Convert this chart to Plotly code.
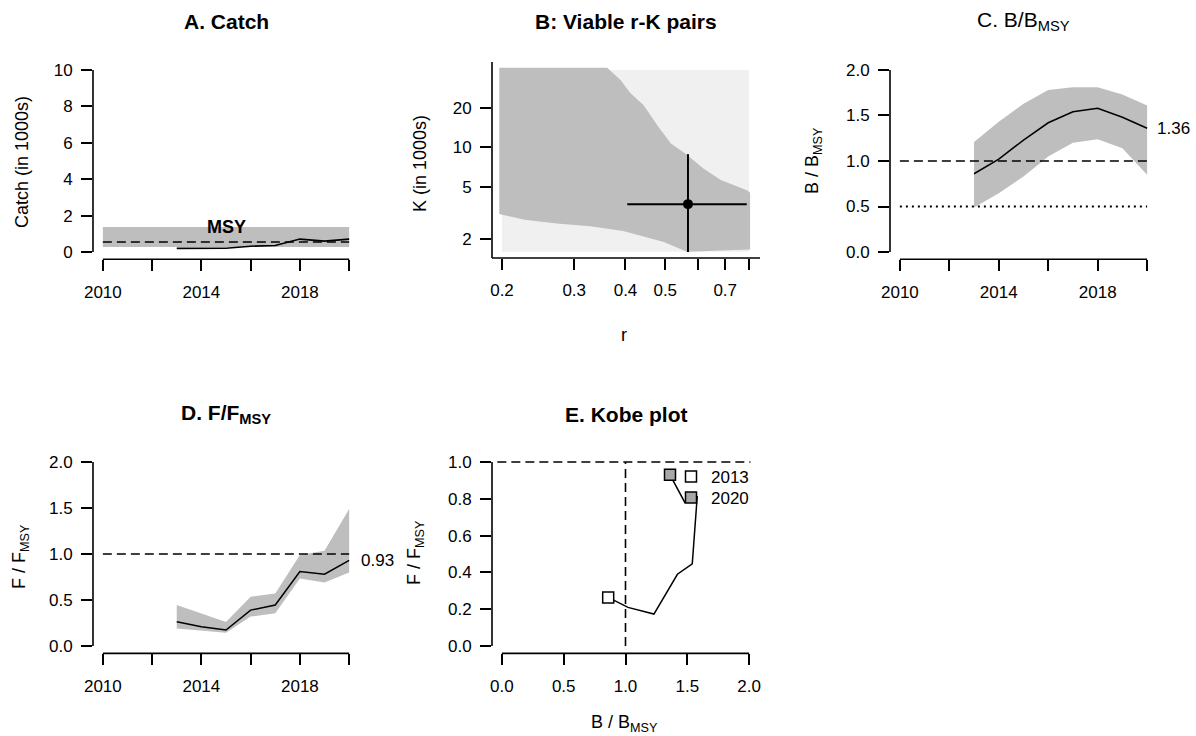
import math
import plotly.graph_objects as go

W, H = 1196, 736
FONT = "Liberation Sans, Arial, sans-serif"
TICK_FS = 17
LAB_FS = 18
TITLE_FS = 21

# ---------------- data ----------------
years = [2013, 2014, 2015, 2016, 2017, 2018, 2019, 2020]
year_axis = [2010, 2012, 2014, 2016, 2018, 2020]
year_labeled = [2010, 2014, 2018]
year_minor = [2012, 2016, 2020]

catch = [0.20, 0.20, 0.21, 0.32, 0.36, 0.71, 0.60, 0.71]
msy = 0.55
msy_lo = 0.28
msy_hi = 1.37
catch_ticks = [0, 2, 4, 6, 8, 10]

# r-K panel
r_prior = [0.2, 0.8]
k_prior = [1.6, 39.0]
cloud_upper_r = [0.197, 0.361, 0.389, 0.411, 0.443, 0.478, 0.516, 0.565, 0.619, 0.683, 0.793, 0.805]
cloud_upper_k = [40.6, 40.6, 32.7, 26.0, 21.0, 14.8, 10.7, 8.8, 6.9, 5.65, 4.7, 4.5]
cloud_lower_r = [0.805, 0.565, 0.496, 0.395, 0.328, 0.272, 0.227, 0.200, 0.197]
cloud_lower_k = [1.66, 1.60, 1.90, 2.30, 2.50, 2.63, 2.80, 3.10, 3.10]
r_best, r_lo, r_hi = 0.568, 0.404, 0.79
k_best, k_lo, k_hi = 3.69, 1.59, 8.89
r_labeled = [0.2, 0.3, 0.4, 0.5, 0.7]
r_minor = [0.6, 0.8]
k_ticks = [2, 5, 10, 20]

# B/Bmsy
bb = [0.86, 1.02, 1.23, 1.42, 1.54, 1.58, 1.48, 1.36]
bb_hi = [1.21, 1.43, 1.63, 1.78, 1.81, 1.81, 1.73, 1.61]
bb_lo = [0.49, 0.645, 0.83, 1.05, 1.20, 1.24, 1.14, 0.85]
ratio_ticks = [0.0, 0.5, 1.0, 1.5, 2.0]

# F/Fmsy
ff = [0.264, 0.21, 0.174, 0.39, 0.446, 0.81, 0.78, 0.93]
ff_hi = [0.446, 0.355, 0.26, 0.536, 0.57, 0.99, 1.036, 1.49]
ff_lo = [0.19, 0.167, 0.145, 0.32, 0.355, 0.735, 0.69, 0.80]
kobe_y_ticks = [0.0, 0.2, 0.4, 0.6, 0.8, 1.0]

BAND = "#bebebe"
BLACK = "#000000"


def px_x(x):
    return x / W


def px_y(y):
    return 1 - y / H


fig = go.Figure()

axis_common = dict(showgrid=False, zeroline=False, showline=False, ticks="outside",
                   ticklen=11, tickwidth=1.5, tickcolor=BLACK, automargin=False,
                   tickfont=dict(family=FONT, size=TICK_FS, color=BLACK))

panels = {
    "1": ((93, 359), (62.7, 259.3)),
    "2": ((492, 760), (62, 258)),
    "3": ((890, 1157), (62.7, 259.3)),
    "4": ((93, 359), (454.6, 653.4)),
    "5": ((492, 759), (454.6, 653.4)),
}

layout = dict(width=W, height=H, autosize=False, margin=dict(l=0, r=0, t=0, b=0, pad=0),
              template="none",
              paper_bgcolor="white", plot_bgcolor="white",
              font=dict(family=FONT, color=BLACK))

for k, ((x0, x1), (yt, yb)) in panels.items():
    xn = "xaxis" if k == "1" else "xaxis" + k
    yn = "yaxis" if k == "1" else "yaxis" + k
    layout[xn] = dict(domain=[px_x(x0), px_x(x1)], anchor="y" if k == "1" else "y" + k,
                      ticklabelstandoff=6, **axis_common)
    layout[yn] = dict(domain=[px_y(yb), px_y(yt)], anchor="x" if k == "1" else "x" + k,
                      ticklabelstandoff=5, **axis_common)

minor_year = dict(tickmode="array", tickvals=year_minor, ticks="outside", ticklen=11, tickwidth=1.5,
                  tickcolor=BLACK, showgrid=False)
for k in ["", "3", "4"]:
    layout["xaxis" + k].update(range=[2009.6, 2020.4], tickvals=year_labeled,
                               ticktext=[str(v) for v in year_labeled], minor=minor_year)
layout["yaxis"].update(range=[-0.4, 10.4], tickvals=catch_ticks)
layout["xaxis2"].update(type="log", range=[math.log10(0.1891), math.log10(0.851)],
                        tickvals=r_labeled, ticktext=[f"{v:.1f}" for v in r_labeled],
                        minor=dict(tickmode="array", tickvals=r_minor, ticks="outside", ticklen=11,
                                   tickwidth=1.5, tickcolor=BLACK, showgrid=False))
layout["yaxis2"].update(type="log", range=[math.log10(1.432), math.log10(44.9)],
                        tickvals=k_ticks, ticktext=[str(v) for v in k_ticks])
layout["yaxis3"].update(range=[-0.08, 2.08], tickvals=ratio_ticks, ticktext=[f"{v:.1f}" for v in ratio_ticks])
layout["yaxis4"].update(range=[-0.08, 2.08], tickvals=ratio_ticks, ticktext=[f"{v:.1f}" for v in ratio_ticks])
layout["xaxis5"].update(range=[-0.08, 2.08], tickvals=ratio_ticks, ticktext=[f"{v:.1f}" for v in ratio_ticks])
layout["yaxis5"].update(range=[-0.04, 1.04], tickvals=kobe_y_ticks, ticktext=[f"{v:.1f}" for v in kobe_y_ticks])

# ---------- Panel A ----------
fig.add_trace(go.Scatter(x=[year_axis[0], year_axis[-1], year_axis[-1], year_axis[0]],
                         y=[msy_lo, msy_lo, msy_hi, msy_hi], fill="toself", fillcolor=BAND,
                         line=dict(width=0), mode="lines", showlegend=False, hoverinfo="skip",
                         xaxis="x", yaxis="y"))
fig.add_trace(go.Scatter(x=[year_axis[0], year_axis[-1]], y=[msy, msy], mode="lines",
                         line=dict(color=BLACK, width=1.6, dash="9px,5px"), showlegend=False,
                         xaxis="x", yaxis="y"))
fig.add_trace(go.Scatter(x=years, y=catch, mode="lines", line=dict(color=BLACK, width=1.6),
                         showlegend=False, xaxis="x", yaxis="y"))

# ---------- Panel B ----------
fig.add_trace(go.Scatter(x=[r_prior[0], r_prior[1], r_prior[1], r_prior[0]],
                         y=[k_prior[0], k_prior[0], k_prior[1], k_prior[1]], fill="toself",
                         fillcolor="#f0f0f0", line=dict(width=0), mode="lines", showlegend=False,
                         hoverinfo="skip", xaxis="x2", yaxis="y2"))
fig.add_trace(go.Scatter(x=cloud_upper_r + cloud_lower_r, y=cloud_upper_k + cloud_lower_k,
                         fill="toself", fillcolor=BAND, line=dict(width=0, color=BAND), mode="lines",
                         showlegend=False, hoverinfo="skip", xaxis="x2", yaxis="y2"))
fig.add_trace(go.Scatter(x=[r_best], y=[k_best], mode="markers",
                         marker=dict(color=BLACK, size=10),
                         error_x=dict(type="data", symmetric=False, array=[r_hi - r_best],
                                      arrayminus=[r_best - r_lo], width=0, thickness=2, color=BLACK),
                         error_y=dict(type="data", symmetric=False, array=[k_hi - k_best],
                                      arrayminus=[k_best - k_lo], width=0, thickness=2, color=BLACK),
                         showlegend=False, xaxis="x2", yaxis="y2"))

# ---------- Panel C ----------
fig.add_trace(go.Scatter(x=years + years[::-1], y=bb_hi + bb_lo[::-1], fill="toself", fillcolor=BAND,
                         line=dict(width=0), mode="lines", showlegend=False, hoverinfo="skip",
                         xaxis="x3", yaxis="y3"))
fig.add_trace(go.Scatter(x=[year_axis[0], year_axis[-1]], y=[1.0, 1.0], mode="lines",
                         line=dict(color=BLACK, width=1.6, dash="9px,5px"), showlegend=False,
                         xaxis="x3", yaxis="y3"))
fig.add_trace(go.Scatter(x=[year_axis[0], year_axis[-1]], y=[0.5, 0.5], mode="lines",
                         line=dict(color=BLACK, width=1.8, dash="2px,4px"), showlegend=False,
                         xaxis="x3", yaxis="y3"))
fig.add_trace(go.Scatter(x=years, y=bb, mode="lines", line=dict(color=BLACK, width=1.5),
                         showlegend=False, xaxis="x3", yaxis="y3"))

# ---------- Panel D ----------
fig.add_trace(go.Scatter(x=years + years[::-1], y=ff_hi + ff_lo[::-1], fill="toself", fillcolor=BAND,
                         line=dict(width=0), mode="lines", showlegend=False, hoverinfo="skip",
                         xaxis="x4", yaxis="y4"))
fig.add_trace(go.Scatter(x=[year_axis[0], year_axis[-1]], y=[1.0, 1.0], mode="lines",
                         line=dict(color=BLACK, width=1.6, dash="9px,5px"), showlegend=False,
                         xaxis="x4", yaxis="y4"))
fig.add_trace(go.Scatter(x=years, y=ff, mode="lines", line=dict(color=BLACK, width=1.5),
                         showlegend=False, xaxis="x4", yaxis="y4"))

# ---------- Panel E ----------
fig.add_trace(go.Scatter(x=bb, y=ff, mode="lines", line=dict(color=BLACK, width=1.5),
                         showlegend=False, xaxis="x5", yaxis="y5"))
fig.add_trace(go.Scatter(x=[bb[0]], y=[ff[0]], mode="markers", name=str(years[0]),
                         marker=dict(symbol="square", size=11, color="white", line=dict(color=BLACK, width=1.5)),
                         showlegend=True, legend="legend", xaxis="x5", yaxis="y5"))
fig.add_trace(go.Scatter(x=[bb[-1]], y=[ff[-1]], mode="markers", name=str(years[-1]),
                         marker=dict(symbol="square", size=11, color="#a8a8a8", line=dict(color=BLACK, width=1.5)),
                         showlegend=True, legend="legend2", xaxis="x5", yaxis="y5"))

shapes = []
LW = 1.6
axis_extent = {
    "": (year_axis, catch_ticks),
    "3": (year_axis, ratio_ticks),
    "4": (year_axis, ratio_ticks),
    "5": (ratio_ticks, kobe_y_ticks),
}
for k, (xt, yt) in axis_extent.items():
    xa = "x" + k
    ya = "y" + k
    shapes.append(dict(type="line", xref=xa, yref=ya + " domain", x0=xt[0], x1=xt[-1], y0=0, y1=0,
                       line=dict(color=BLACK, width=LW)))
    shapes.append(dict(type="line", xref=xa + " domain", yref=ya, x0=0, x1=0, y0=yt[0], y1=yt[-1],
                       line=dict(color=BLACK, width=LW)))
shapes.append(dict(type="line", xref="x2 domain", yref="y2 domain", x0=0, x1=1, y0=0, y1=0,
                   line=dict(color=BLACK, width=LW)))
shapes.append(dict(type="line", xref="x2 domain", yref="y2 domain", x0=0, x1=0, y0=0, y1=1,
                   line=dict(color=BLACK, width=LW)))
shapes.append(dict(type="line", xref="x5 domain", yref="y5", x0=0.02, x1=0.968, y0=1, y1=1,
                   line=dict(color=BLACK, width=LW, dash="9px,5px")))
shapes.append(dict(type="line", xref="x5", yref="y5", x0=1, x1=1, y0=0, y1=1,
                   line=dict(color=BLACK, width=LW, dash="9px,5px")))
layout["shapes"] = shapes

ann = []


def title(text, cx, cy, bold=True):
    t = f"<b>{text}</b>" if bold else text
    ann.append(dict(text=t, x=px_x(cx), y=px_y(cy), xref="paper", yref="paper", showarrow=False,
                    xanchor="center", yanchor="middle", font=dict(family=FONT, size=TITLE_FS, color=BLACK)))


def label(text, cx, cy, angle=0):
    ann.append(dict(text=text, x=px_x(cx), y=px_y(cy), xref="paper", yref="paper", showarrow=False,
                    xanchor="center", yanchor="middle", textangle=angle,
                    font=dict(family=FONT, size=LAB_FS, color=BLACK)))


title("A. Catch", 226, 21)
title("B: Viable r-K pairs", 626, 21)
title("C. B/B<sub>MSY</sub>", 1023, 21, bold=False)
title("D. F/F<sub>MSY</sub>", 226, 414)
title("E. Kobe plot", 626, 414)

label("Catch (in 1000s)", 22, 162, -90)
label("K (in 1000s)", 420, 164, -90)
label("r", 624, 335)
label("B / B<sub>MSY</sub>", 813, 161, -90)
label("F / F<sub>MSY</sub>", 20, 557, -90)
label("F / F<sub>MSY</sub>", 415, 553, -90)
label("B / B<sub>MSY</sub>", 624, 723)

ann.append(dict(text="<b>MSY</b>", x=(year_axis[0] + year_axis[-1]) / 2, y=msy_hi, xref="x", yref="y",
                showarrow=False, xanchor="center", yanchor="middle",
                font=dict(family=FONT, size=LAB_FS, color=BLACK)))
ann.append(dict(text=f"{bb[-1]:.2f}", x=years[-1], y=bb[-1], xref="x3", yref="y3", showarrow=False,
                xanchor="left", yanchor="middle", xshift=8, font=dict(family=FONT, size=TICK_FS, color=BLACK)))
ann.append(dict(text=f"{ff[-1]:.2f}", x=years[-1], y=ff[-1], xref="x4", yref="y4", showarrow=False,
                xanchor="left", yanchor="middle", xshift=10, font=dict(family=FONT, size=TICK_FS, color=BLACK)))
layout["annotations"] = ann

leg_common = dict(xanchor="left", yanchor="middle", bgcolor="rgba(0,0,0,0)", borderwidth=0,
                  itemwidth=30, font=dict(family=FONT, size=TICK_FS, color=BLACK))
layout["legend"] = dict(x=px_x(671), y=px_y(477), **leg_common)
layout["legend2"] = dict(x=px_x(671), y=px_y(498), **leg_common)

fig.update_layout(**layout)
fig.write_html("out.html", config={"displayModeBar": False},
               post_script="document.body.style.margin='0px';document.body.style.overflow='hidden';")
